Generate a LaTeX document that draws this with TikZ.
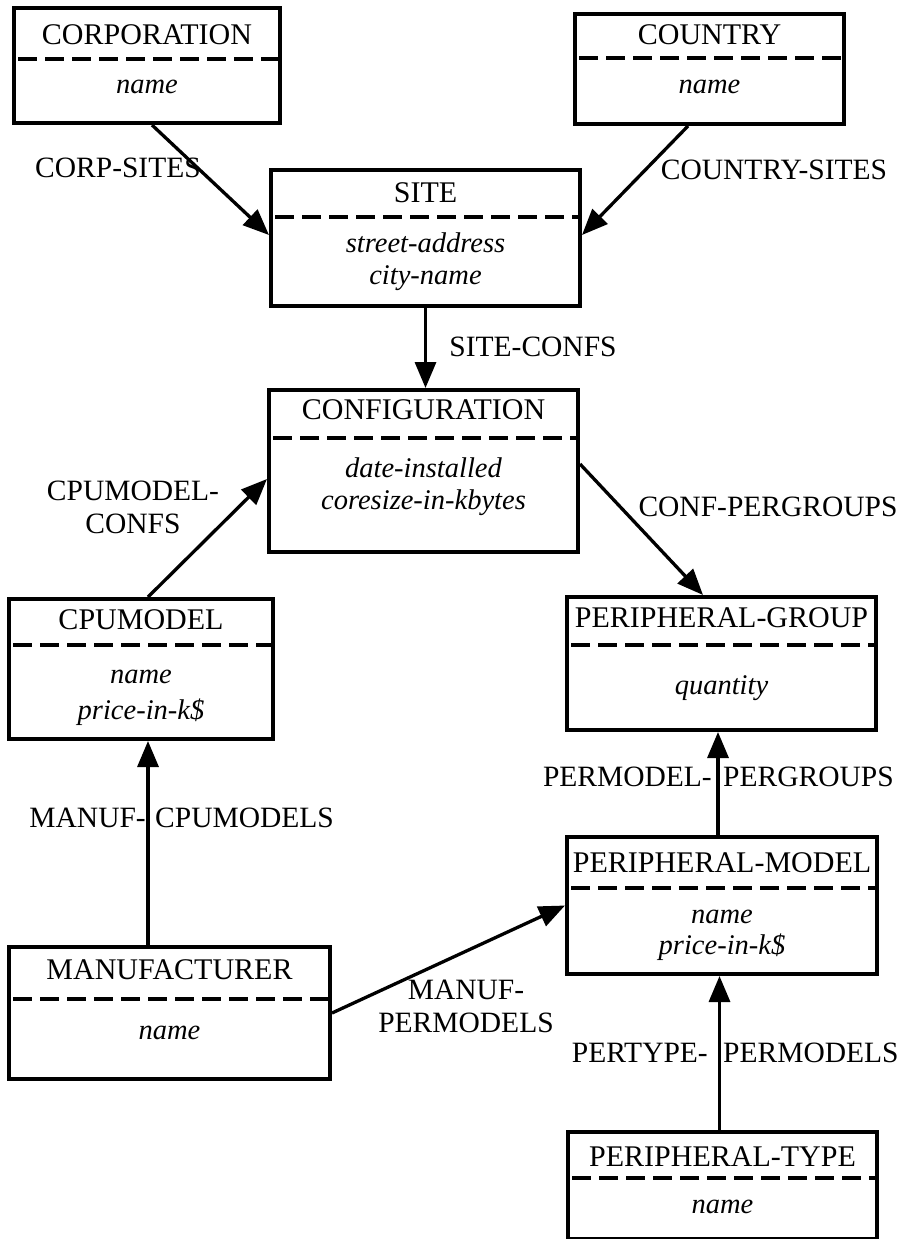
\documentclass[tikz,border=0pt]{standalone}
\usepackage{fontspec}
\setmainfont{Liberation Serif}
\usetikzlibrary{arrows.meta}

\tikzset{
  box/.style={draw, rectangle, line width=4pt, inner sep=0pt, anchor=north west},
  sep/.style={line width=3.3pt, dash pattern=on 19pt off 8pt, dash phase=-6pt},
  ttl/.style={font=\fontsize{30}{34}\selectfont, inner sep=0pt},
  attr/.style={font=\itshape\fontsize{28.5}{34}\selectfont, inner sep=0pt},
  lbl/.style={font=\fontsize{29.5}{33}\selectfont, inner sep=0pt, align=center},
  rel/.style={line width=3.3pt, -{Triangle[length=26pt,width=21pt]}},
}

\begin{document}
\begin{tikzpicture}[x=1pt,y=-1pt]
\fill[white] (0,0) rectangle (910,1239);
\useasboundingbox (0,0) rectangle (910,1239);

% ---- entity boxes ----
\node[box, minimum width=266pt, minimum height=115pt] (corp) at (12,6) {};
\draw[sep] (corp.west |- 0,59) -- (corp.east |- 0,59);
\node[ttl]  (corpT) at (corp.north |- 0,35) {CORPORATION};
\node[attr] (corpA) at (corp.north |- 0,87) {name};

\node[box, minimum width=269pt, minimum height=110pt] (country) at (573,12) {};
\draw[sep] (country.west |- 0,58) -- (country.east |- 0,58);
\node[ttl]  (countryT) at (country.north |- 0,35) {COUNTRY};
\node[attr] (countryA) at (country.north |- 0,87) {name};

\node[box, minimum width=309pt, minimum height=136pt] (site) at (269,168) {};
\draw[sep] (site.west |- 0,217) -- (site.east |- 0,217);
\node[ttl]  (siteT) at (site.north |- 0,193) {SITE};
\node[attr] (siteA) at (site.north |- 0,243) {street-address};
\node[attr] (siteB) at (site.north |- 0,278) {city-name};

\node[box, minimum width=309pt, minimum height=162pt] (config) at (267,388) {};
\draw[sep] (config.west |- 0,438) -- (config.east |- 0,438);
\node[ttl]  (configT) at (config.north |- 0,410) {CONFIGURATION};
\node[attr] (configA) at (config.north |- 0,468) {date-installed};
\node[attr] (configB) at (config.north |- 0,503) {coresize-in-kbytes};

\node[box, minimum width=264pt, minimum height=140pt] (cpu) at (7,597) {};
\draw[sep] (cpu.west |- 0,645) -- (cpu.east |- 0,645);
\node[ttl]  (cpuT) at (cpu.north |- 0,620) {CPUMODEL};
\node[attr] (cpuA) at (cpu.north |- 0,677) {name};
\node[attr] (cpuB) at (cpu.north |- 0,712) {price-in-k\$};

\node[box, minimum width=309pt, minimum height=133pt] (pgroup) at (565,595) {};
\draw[sep] (pgroup.west |- 0,645) -- (pgroup.east |- 0,645);
\node[ttl]  (pgroupT) at (pgroup.north |- 0,618) {PERIPHERAL-GROUP};
\node[attr] (pgroupA) at (pgroup.north |- 0,688) {quantity};

\node[box, minimum width=310pt, minimum height=137pt] (pmodel) at (565,835) {};
\draw[sep] (pmodel.west |- 0,888) -- (pmodel.east |- 0,888);
\node[ttl]  (pmodelT) at (pmodel.north |- 0,863) {PERIPHERAL-MODEL};
\node[attr] (pmodelA) at (pmodel.north |- 0,917) {name};
\node[attr] (pmodelB) at (pmodel.north |- 0,947) {price-in-k\$};

\node[box, minimum width=321pt, minimum height=132pt] (manuf) at (7,945) {};
\draw[sep] (manuf.west |- 0,999) -- (manuf.east |- 0,999);
\node[ttl]  (manufT) at (manuf.north |- 0,970) {MANUFACTURER};
\node[attr] (manufA) at (manuf.north |- 0,1033) {name};

\node[box, minimum width=309pt, minimum height=107pt] (ptype) at (566,1130) {};
\draw[sep] (ptype.west |- 0,1178) -- (ptype.east |- 0,1178);
\node[ttl]  (ptypeT) at (ptype.north |- 0,1157) {PERIPHERAL-TYPE};
\node[attr] (ptypeA) at (ptype.north |- 0,1207) {name};

% ---- relationships ----
\draw[rel] ([xshift=140pt]corp.south west) -- ([yshift=3pt]site.west);
\draw[rel] ([xshift=115pt]country.south west) -- ([yshift=3pt]site.east);
\draw[rel] (site.south) -- (site.south |- config.north);
\draw[rel] ([xshift=141pt]cpu.north west) -- ([yshift=-8pt]config.west);
\draw[rel] ([yshift=7pt]config.east) -- ([xshift=138pt]pgroup.north west);
\draw[rel] ([xshift=141pt]manuf.north west) coordinate (mc) -- (mc |- cpu.south);
\draw[rel] (manuf.east) -- (pmodel.west);
\draw[rel] ([xshift=-4pt]pmodel.north) coordinate (pm) -- (pm |- pgroup.south);
\draw[rel] ([xshift=-3pt]ptype.north) coordinate (pt) -- (pt |- pmodel.south);

% ---- relationship names ----
\node[lbl] (lCorp) at (118,168) {CORP-SITES};
\node[lbl] (lCountry) at (774,170) {COUNTRY-SITES};
\node[lbl] (lSite) at (533,347) {SITE-CONFS};
\node[lbl] (lCpu) at (133,507) {CPUMODEL-\\CONFS};
\node[lbl] (lConf) at (768,507) {CONF-PERGROUPS};
\node[lbl, anchor=east] (lMcA) at (146,818) {MANUF-};
\node[lbl, anchor=west] (lMcB) at (155,818) {CPUMODELS};
\node[lbl] (lMp) at (466,1006) {MANUF-\\PERMODELS};
\node[lbl, anchor=east] (lPgA) at (712,777) {PERMODEL-};
\node[lbl, anchor=west] (lPgB) at (723,777) {PERGROUPS};
\node[lbl, anchor=east] (lPtA) at (708,1053) {PERTYPE-};
\node[lbl, anchor=west] (lPtB) at (723,1053) {PERMODELS};
\end{tikzpicture}
\end{document}
